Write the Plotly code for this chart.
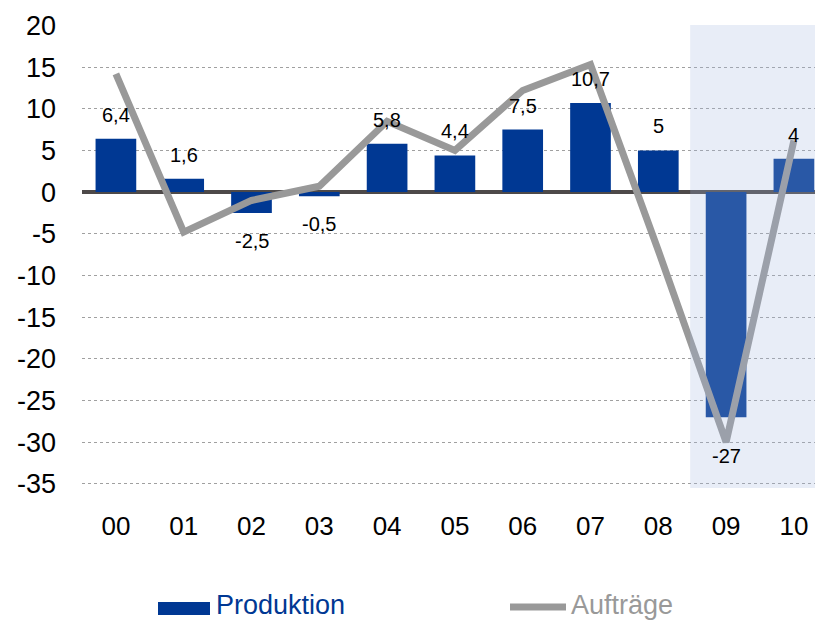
import plotly.graph_objects as go

years = ["00", "01", "02", "03", "04", "05", "06", "07", "08", "09", "10"]
produktion = [6.4, 1.6, -2.5, -0.5, 5.8, 4.4, 7.5, 10.7, 5.0, -27.0, 4.0]
auftraege = [14.2, -4.8, -1.0, 0.7, 8.5, 5.0, 12.2, 15.3, -7.0, -30.0, 6.2]
y_ticks = [20, 15, 10, 5, 0, -5, -10, -15, -20, -25, -30, -35]
y_tick_labels = [str(v) for v in y_ticks]

BLUE = "#003893"
GREY = "#999999"
FONT = "Liberation Sans, Arial, sans-serif"

# page has an 8px body margin: figure drawn at offset (8, 8)
OFF = 8
FIG_W, FIG_H = 823 - 2 * OFF, 622 - OFF

fig = go.Figure()
fig.add_trace(go.Bar(x=years, y=produktion, name="Produktion", marker_color=BLUE,
                     marker_line_width=0, width=0.6, showlegend=False))
fig.add_trace(go.Scatter(x=years, y=auftraege, name="Aufträge", mode="lines",
                         line=dict(color=GREY, width=7), showlegend=False))

def fmt(v):
    return ("%g" % v).replace(".", ",")

vmin = min(produktion)
for x, v in zip(years, produktion):
    if v >= 0:
        fig.add_annotation(x=x, y=v, text=fmt(v), showarrow=False, yanchor="bottom",
                           yshift=11, font=dict(size=20, color="#000000", family=FONT))
    else:
        fig.add_annotation(x=x, y=v, text=fmt(v), showarrow=False, yanchor="top",
                           yshift=-26 if v == vmin else -15,
                           font=dict(size=20, color="#000000", family=FONT))

# forecast shading
fig.add_shape(type="rect", xref="x", yref="paper", x0=8.47, x1=10.6, y0=0, y1=1,
              fillcolor="rgba(165,185,225,0.25)", line_width=0, layer="above")

# plot area in screen pixels (the original chart is cropped on the right)
L, R, T, B = 82, 823 - OFF, 25, 488
W, H = R - L, B - T
CAT_PX = 67.8
def px(xp): return (xp - L) / W
def py(yp): return (B - yp) / H

# manual legend
fig.add_shape(type="rect", xref="paper", yref="paper", x0=px(158), x1=px(210),
              y0=py(615), y1=py(602), fillcolor=BLUE, line_width=0)
fig.add_annotation(xref="paper", yref="paper", x=px(214), y=py(605), xanchor="left",
                   yanchor="middle", text="Produktion", showarrow=False,
                   font=dict(size=27, color=BLUE, family=FONT))
fig.add_shape(type="line", xref="paper", yref="paper", x0=px(510), x1=px(566),
              y0=py(607), y1=py(607), line=dict(color=GREY, width=7))
fig.add_annotation(xref="paper", yref="paper", x=px(569), y=py(605), xanchor="left",
                   yanchor="middle", text="Aufträge", showarrow=False,
                   font=dict(size=27, color=GREY, family=FONT))

fig.update_layout(
    width=FIG_W, height=FIG_H,
    margin=dict(l=L - OFF, r=0, t=T - OFF, b=FIG_H + OFF - B, autoexpand=False),
    paper_bgcolor="white", plot_bgcolor="white",
    font=dict(family=FONT, size=26, color="#000000"),
    xaxis=dict(type="category", range=[-0.5, -0.5 + W / CAT_PX], showgrid=False, ticks="",
               showline=False, zeroline=False, ticklabelstandoff=20, automargin=False,
               tickfont=dict(size=26)),
    yaxis=dict(range=[-35.5, 20.05], tickvals=y_ticks, ticktext=y_tick_labels,
               showgrid=True, automargin=False,
               gridcolor="#a0a0a0", griddash="dot", gridwidth=1,
               zeroline=True, zerolinecolor="#4d4949", zerolinewidth=4,
               ticks="", showline=False, ticklabelstandoff=25,
               tickfont=dict(size=27)),
)

fig.write_html("out.html")
